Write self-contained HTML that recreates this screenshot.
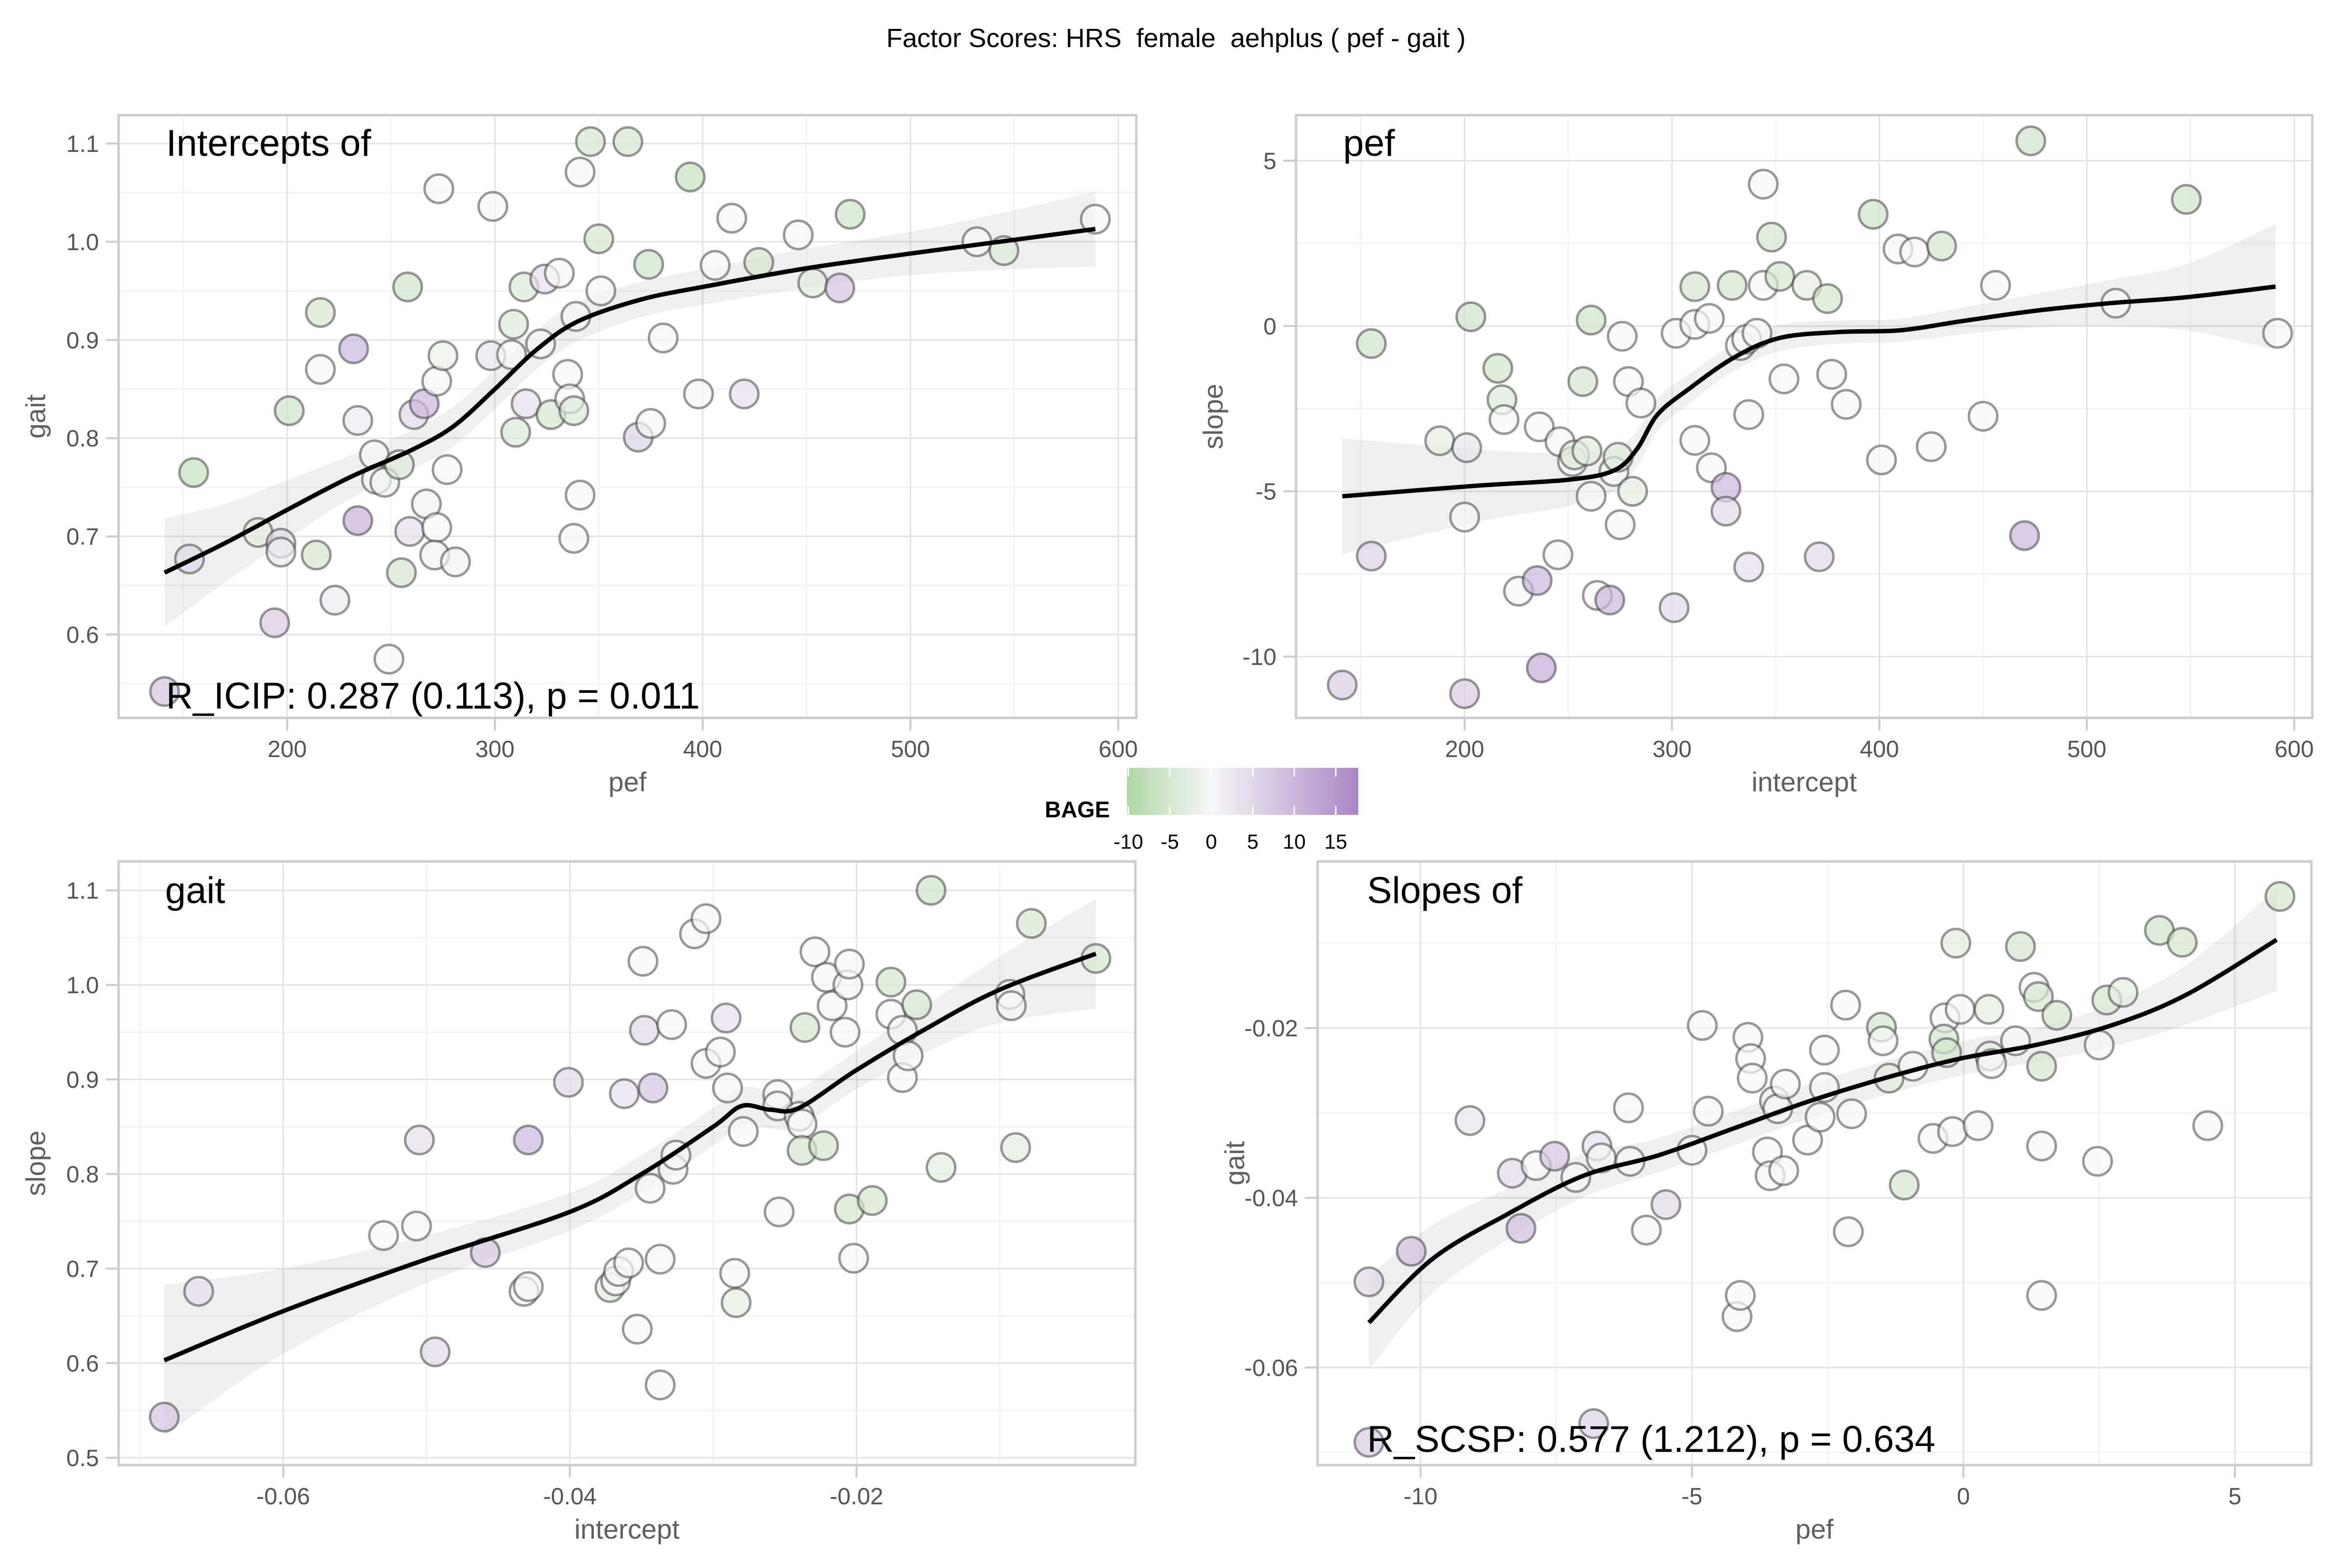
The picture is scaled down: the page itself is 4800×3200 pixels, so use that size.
<!DOCTYPE html>
<html><head><meta charset="utf-8">
<style>
html,body{margin:0;padding:0;background:#fff;}
svg{display:block;font-family:"Liberation Sans",Arial,sans-serif;}
</style></head>
<body>
<svg id="chart" width="4800" height="3200" viewBox="0 0 4800 3200" xmlns="http://www.w3.org/2000/svg">
<rect width="4800" height="3200" fill="#ffffff"/>
<text x="2400" y="96" text-anchor="middle" font-size="54" fill="#000" xml:space="preserve" style="white-space:pre">Factor Scores: HRS  female  aehplus ( pef - gait )</text>
<g id="panels"></g>
<g id="legend"></g>
</svg>
<script>
// ---------- Panel 1: pef intercept vs gait intercept ----------
const p1X=[141,155,153,186,197,197,194,201,216,216,214,223,232,234,242,243,247,234,249,254,255,258,259,261,266,267,272,272,273,275,271,277,281,299,298,310,308,309,314,315,324,322,327,331,335,336,338,338,341,339,341,346,350,351,364,374,369,375,381,394,398,406,414,420,427,446,453,466,471,532,545,589];
const p1Y=[0.542,0.765,0.677,0.704,0.693,0.684,0.612,0.828,0.928,0.870,0.681,0.635,0.891,0.818,0.783,0.758,0.755,0.716,0.575,0.773,0.663,0.954,0.705,0.824,0.835,0.733,0.709,0.858,1.054,0.884,0.681,0.768,0.674,1.036,0.884,0.806,0.885,0.916,0.954,0.835,0.962,0.896,0.824,0.968,0.865,0.840,0.828,0.698,0.742,0.924,1.071,1.102,1.003,0.950,1.102,0.977,0.801,0.815,0.902,1.066,0.845,0.976,1.024,0.845,0.979,1.007,0.958,0.953,1.028,1.000,0.991,1.023];
const p1Age=[8,-7,5,-3,4,2,7,-6,-5,0,-5,2,10,2,0,0,-1,11,0,-4,-5,-6,4,5,10,1,0,0,0,-2,1,0,1,0,3,-4,0,-4,-4,4,4,0,-5,0,0,0,-4,0,0,0,0,-5,-5,0,-5,-6,6,0,0,-7,0,0,0,4,-5,0,-3,8,-6,0,-4,0];
const p1FitX=[141,170,200,230,260,280,300,320,340,370,400,450,500,550,589];
const p1FitY=[0.663,0.693,0.727,0.760,0.788,0.812,0.850,0.890,0.919,0.941,0.954,0.973,0.988,1.002,1.013];
const p1FitSE=[0.055,0.04,0.03,0.022,0.02,0.02,0.02,0.02,0.02,0.018,0.018,0.02,0.022,0.03,0.038];
const p1XTicks=[200,300,400,500,600];
const p1YTicks=[0.6,0.7,0.8,0.9,1.0,1.1];

// ---------- Panel 2: pef intercept vs pef slope ----------
const p2X=[141,155,155,188,200,200,203,201,216,218,219,226,235,237,236,246,252,253,245,257,259,261,261,264,270,272,274,275,276,279,281,285,301,302,311,311,311,318,319,326,326,329,333,336,337,341,337,344,344,348,352,354,365,371,375,377,384,397,401,409,417,425,430,450,456,470,473,514,548,592];
const p2Y=[-10.86,-0.53,-6.96,-3.47,-11.12,-5.78,0.28,-3.68,-1.28,-2.23,-2.83,-8.02,-7.70,-10.34,-3.05,-3.50,-4.10,-3.90,-6.92,-1.68,-3.78,-5.15,0.18,-8.15,-8.29,-4.40,-3.97,-6.01,-0.31,-1.68,-5.00,-2.33,-8.52,-0.22,1.19,0.05,-3.46,0.23,-4.29,-4.88,-5.60,1.23,-0.59,-0.40,-2.68,-0.22,-7.29,4.29,1.23,2.69,1.50,-1.60,1.23,-6.98,0.83,-1.46,-2.37,3.38,-4.05,2.33,2.24,-3.65,2.42,-2.73,1.23,-6.34,5.60,0.69,3.83,-0.22];
const p2Age=[7,-6,6,-3,7,0,-6,3,-6,-4,0,0,10,12,0,0,0,-4,0,-5,-3,0,-6,0,10,0,-4,0,0,0,-3,0,5,0,-5,0,0,0,0,10,5,-5,0,0,0,0,4,0,0,-5,-5,0,-3,5,-5,0,0,-6,0,0,0,0,-5,0,0,10,-6,0,-6,0];
const p2FitX=[141,206,250,272,283,293,308,330,352,381,410,439,475,511,548,591];
const p2FitY=[-5.15,-4.83,-4.65,-4.37,-3.73,-2.68,-1.91,-0.95,-0.36,-0.18,-0.13,0.14,0.46,0.69,0.87,1.19];
const p2FitSE=[1.75,1.1,0.8,0.65,0.55,0.5,0.45,0.4,0.4,0.35,0.35,0.4,0.5,0.7,1.0,1.9];
const p2XTicks=[200,300,400,500,600];
const p2YTicks=[-10,-5,0,5];

// ---------- Panel 3: gait slope vs gait intercept ----------
const p3X=[-0.0683,-0.0659,-0.0530,-0.0507,-0.0505,-0.0494,-0.0459,-0.0429,-0.0432,-0.0429,-0.0401,-0.0372,-0.0368,-0.0366,-0.0362,-0.0359,-0.0353,-0.0349,-0.0348,-0.0344,-0.0342,-0.0337,-0.0337,-0.0329,-0.0328,-0.0326,-0.0313,-0.0305,-0.0305,-0.0295,-0.0291,-0.0290,-0.0285,-0.0284,-0.0279,-0.0255,-0.0255,-0.0254,-0.0240,-0.0238,-0.0236,-0.0238,-0.0229,-0.0223,-0.0221,-0.0217,-0.0208,-0.0206,-0.0205,-0.0205,-0.0202,-0.0189,-0.0176,-0.0176,-0.0168,-0.0168,-0.0164,-0.0158,-0.0148,-0.0141,-0.0093,-0.0092,-0.0089,-0.0078,-0.0033];
const p3Y=[0.543,0.676,0.735,0.745,0.836,0.612,0.717,0.836,0.676,0.681,0.897,0.680,0.687,0.697,0.885,0.706,0.636,1.025,0.952,0.785,0.891,0.710,0.577,0.958,0.805,0.820,1.054,1.070,0.917,0.929,0.965,0.891,0.695,0.664,0.845,0.884,0.872,0.760,0.861,0.853,0.955,0.825,1.035,0.830,1.008,0.978,0.950,1.000,1.022,0.763,0.711,0.772,1.003,0.969,0.952,0.902,0.925,0.979,1.100,0.807,0.990,0.978,0.828,1.065,1.028];
const p3Age=[8,4,0,0,4,5,7,10,0,0,5,-3,0,0,4,0,0,0,5,0,8,0,0,0,0,0,0,0,0,0,4,0,0,-3,0,0,0,0,0,0,-5,-5,0,-5,0,0,0,0,0,-5,0,-5,-5,0,0,0,0,-5,-6,-3,0,0,-3,-5,-5];
const p3FitX=[-0.0683,-0.06,-0.05,-0.04,-0.035,-0.03,-0.028,-0.026,-0.024,-0.02,-0.015,-0.01,-0.0033];
const p3FitY=[0.603,0.655,0.71,0.76,0.80,0.85,0.872,0.868,0.87,0.91,0.955,0.995,1.033];
const p3FitSE=[0.08,0.045,0.025,0.02,0.02,0.02,0.02,0.02,0.02,0.02,0.025,0.035,0.058];
const p3XTicks=[-0.06,-0.04,-0.02];
const p3YTicks=[0.5,0.6,0.7,0.8,0.9,1.0,1.1];

// ---------- Panel 4: pef slope vs gait slope ----------
const p4X=[-10.95,-10.95,-10.17,-9.09,-8.31,-8.15,-7.87,-7.53,-7.14,-6.81,-6.75,-6.67,-6.14,-6.17,-5.84,-5.48,-5.0,-4.81,-4.70,-4.17,-4.11,-3.97,-3.92,-3.89,-3.61,-3.56,-3.48,-3.42,-3.31,-3.28,-2.87,-2.64,-2.56,-2.56,-2.17,-2.12,-2.06,-1.51,-1.48,-1.37,-1.09,-0.93,-0.56,-0.34,-0.36,-0.31,-0.20,-0.14,-0.06,0.27,0.47,0.49,0.52,0.96,1.05,1.30,1.38,1.44,1.44,1.44,1.72,2.47,2.50,2.64,2.94,3.61,4.03,4.50,5.83];
const p4Y=[-0.0499,-0.0688,-0.0463,-0.0309,-0.0371,-0.0436,-0.0362,-0.0351,-0.0376,-0.0666,-0.0339,-0.0353,-0.0357,-0.0294,-0.0438,-0.0408,-0.0344,-0.0197,-0.0298,-0.0540,-0.0515,-0.0211,-0.0236,-0.0259,-0.0346,-0.0374,-0.0286,-0.0295,-0.0368,-0.0266,-0.0332,-0.0305,-0.0270,-0.0226,-0.0173,-0.0440,-0.0301,-0.0199,-0.0215,-0.0259,-0.0385,-0.0245,-0.0330,-0.0188,-0.0213,-0.0229,-0.0322,-0.0100,-0.0178,-0.0315,-0.0178,-0.0233,-0.0242,-0.0215,-0.0104,-0.0152,-0.0163,-0.0245,-0.0339,-0.0515,-0.0185,-0.0357,-0.0220,-0.0167,-0.0158,-0.0085,-0.0099,-0.0315,-0.0045];
const p4Age=[5,7,9,3,5,9,0,8,0,6,4,0,0,0,0,5,0,0,0,0,0,0,0,0,0,0,-2,0,0,0,0,0,0,0,0,0,0,-5,0,-3,-5,0,0,0,-5,-5,0,-3,0,0,-3,-3,0,0,-5,0,-5,-5,0,0,-5,0,0,-5,-3,-6,-5,0,-5];
const p4FitX=[-10.95,-9.78,-8.39,-7.0,-5.62,-4.22,-2.83,-1.45,-0.06,1.33,2.72,4.1,5.77];
const p4FitY=[-0.0547,-0.0472,-0.0419,-0.0374,-0.0350,-0.0318,-0.0286,-0.0259,-0.0236,-0.0220,-0.0197,-0.0161,-0.0096];
const p4FitSE=[0.0055,0.004,0.003,0.0025,0.002,0.002,0.002,0.002,0.002,0.002,0.0025,0.0035,0.006];
const p4XTicks=[-10,-5,0,5];
const p4YTicks=[-0.06,-0.04,-0.02];

// legend ticks
const legendTicks=[-10,-5,0,5,10,15];

const NS='http://www.w3.org/2000/svg';
function mk(tag,attrs,parent){const e=document.createElementNS(NS,tag);for(const k in attrs)e.setAttribute(k,attrs[k]);if(parent)parent.appendChild(e);return e;}
function lin(d0,r0,d1,r1){return v=>r0+(v-d0)*(r1-r0)/(d1-d0);}
function ageColor(a){
  const g=[175,215,165],m=[247,247,247],p=[170,135,198];
  let c;
  if(a<0){const t=Math.min(1,-a/10.2);c=m.map((v,i)=>Math.round(v+(g[i]-v)*t));}
  else{const t=Math.min(1,a/17.6);c=m.map((v,i)=>Math.round(v+(p[i]-v)*t));}
  return 'rgb('+c.join(',')+')';
}
// Catmull-Rom smoothed path through points (array of [x,y])
function smoothPath(pts,move){
  let d=(move?'M':'L')+pts[0][0].toFixed(1)+','+pts[0][1].toFixed(1);
  for(let i=0;i<pts.length-1;i++){
    const p0=pts[Math.max(0,i-1)],p1=pts[i],p2=pts[i+1],p3=pts[Math.min(pts.length-1,i+2)];
    const c1=[p1[0]+(p2[0]-p0[0])/6,p1[1]+(p2[1]-p0[1])/6];
    const c2=[p2[0]-(p3[0]-p1[0])/6,p2[1]-(p3[1]-p1[1])/6];
    d+=' C'+c1[0].toFixed(1)+','+c1[1].toFixed(1)+' '+c2[0].toFixed(1)+','+c2[1].toFixed(1)+' '+p2[0].toFixed(1)+','+p2[1].toFixed(1);
  }
  return d;
}

const panelsG=document.getElementById('panels');
const panels=[
 {id:'intercepts-panel',x0:242,x1:2319,y0:235,y1:1465,xs:lin(200,586,600,2282),ys:lin(1.1,293,0.6,1295),
  X:p1X,Y:p1Y,A:p1Age,FX:p1FitX,FY:p1FitY,FS:p1FitSE,xt:p1XTicks,yt:p1YTicks,xminor:[150,250,350,450,550],yminor:[0.55,0.65,0.75,0.85,0.95,1.05],
  xlab:'pef',ylab:'gait',xfmt:v=>String(v),yfmt:v=>v.toFixed(1),title:'Intercepts of',note:'R_ICIP: 0.287 (0.113), p = 0.011',titleY:318,noteY:1446,labTx:339},
 {id:'pef-panel',x0:2645,x1:4719,y0:235,y1:1465,xs:lin(200,2989,600,4682),ys:lin(5,328,-10,1340),
  X:p2X,Y:p2Y,A:p2Age,FX:p2FitX,FY:p2FitY,FS:p2FitSE,xt:p2XTicks,yt:p2YTicks,xminor:[150,250,350,450,550],yminor:[-7.5,-2.5,2.5],
  xlab:'intercept',ylab:'slope',xfmt:v=>String(v),yfmt:v=>String(v),title:'pef',note:null,titleY:318,labTx:2741},
 {id:'gait-panel',x0:242,x1:2317,y0:1758,y1:2990,xs:lin(-0.06,578,-0.02,1748),ys:lin(1.1,1817,0.5,2975),
  X:p3X,Y:p3Y,A:p3Age,FX:p3FitX,FY:p3FitY,FS:p3FitSE,xt:p3XTicks,yt:p3YTicks,xminor:[-0.07,-0.05,-0.03,-0.01],yminor:[0.55,0.65,0.75,0.85,0.95,1.05],
  xlab:'intercept',ylab:'slope',xfmt:v=>v.toFixed(2),yfmt:v=>v.toFixed(1),title:'gait',note:null,titleY:1843,labTx:337},
 {id:'slopes-panel',x0:2689,x1:4717,y0:1758,y1:2990,xs:lin(-10,2899,5,4561),ys:lin(-0.02,2098,-0.06,2791),
  X:p4X,Y:p4Y,A:p4Age,FX:p4FitX,FY:p4FitY,FS:p4FitSE,xt:p4XTicks,yt:p4YTicks,xminor:[-7.5,-2.5,2.5],yminor:[-0.07,-0.05,-0.03,-0.01],
  xlab:'pef',ylab:'gait',xfmt:v=>String(v),yfmt:v=>v.toFixed(2),title:'Slopes of',note:'R_SCSP: 0.577 (1.212), p = 0.634',titleY:1843,noteY:2963,labTx:2790}
];

panels.forEach((P,pi)=>{
  const g=mk('g',{},panelsG);
  
  
  const clipId='clip'+pi;
  const cp=mk('clipPath',{id:clipId},g);mk('rect',{x:P.x0,y:P.y0,width:P.x1-P.x0,height:P.y1-P.y0},cp);
  P.xminor.forEach(v=>{const x=P.xs(v);if(x>P.x0&&x<P.x1){const l=mk('line',{x1:x,x2:x,y1:P.y0,y2:P.y1,stroke:'#f3f3f3','stroke-width':3},g);
    
    }});
  P.yminor.forEach(v=>{const y=P.ys(v);if(y>P.y0&&y<P.y1){const l=mk('line',{x1:P.x0,x2:P.x1,y1:y,y2:y,stroke:'#f3f3f3','stroke-width':3},g);
    
    }});
  P.xt.forEach(v=>{const x=P.xs(v);
    const l=mk('line',{x1:x,x2:x,y1:P.y0,y2:P.y1,stroke:'#e3e3e3','stroke-width':3},g);
    
    
    const t=mk('line',{x1:x,x2:x,y1:P.y1,y2:P.y1+26,stroke:'#cccccc','stroke-width':4},g);
    
    
    const tx=mk('text',{x:x,y:P.y1+80,'text-anchor':'middle','font-size':48,fill:'#555555'},g);tx.textContent=P.xfmt(v);
    
    });
  P.yt.forEach(v=>{const y=P.ys(v);
    const l=mk('line',{x1:P.x0,x2:P.x1,y1:y,y2:y,stroke:'#e3e3e3','stroke-width':3},g);
    
    
    const t=mk('line',{x1:P.x0-26,x2:P.x0,y1:y,y2:y,stroke:'#cccccc','stroke-width':4},g);
    
    
    const tx=mk('text',{x:P.x0-40,y:y+17,'text-anchor':'end','font-size':48,fill:'#555555'},g);tx.textContent=P.yfmt(v);
    
    });
  const inner=mk('g',{'clip-path':'url(#'+clipId+')'},g);
  const upPts=P.FX.map((xv,i)=>[P.xs(xv),P.ys(P.FY[i]+P.FS[i])]);
  const loPts=P.FX.map((xv,i)=>[P.xs(xv),P.ys(P.FY[i]-P.FS[i])]).reverse();
  const band=mk('path',{d:smoothPath(upPts,true)+' '+smoothPath(loPts,false)+' Z',fill:'#999999','fill-opacity':0.16},inner);
  
  
  P.X.forEach((xv,i)=>{
    const c=mk('circle',{cx:P.xs(xv),cy:P.ys(P.Y[i]),r:29,fill:ageColor(P.A[i]),'fill-opacity':0.7,stroke:'#333333','stroke-opacity':0.5,'stroke-width':5},inner);
    
    
  });
  const fitPts=P.FX.map((xv,i)=>[P.xs(xv),P.ys(P.FY[i])]);
  const fl=mk('path',{d:smoothPath(fitPts,true),fill:'none',stroke:'#000','stroke-width':9,'stroke-linejoin':'round'},inner);
  
  
  const b=mk('rect',{x:P.x0,y:P.y0,width:P.x1-P.x0,height:P.y1-P.y0,fill:'none',stroke:'#cccccc','stroke-width':5},g);
  
  
  const xt=mk('text',{x:(P.x0+P.x1)/2,y:P.y1+150,'text-anchor':'middle','font-size':56,fill:'#5f5f5f'},g);xt.textContent=P.xlab;
  
  
  const yx=P.x0-150,yy=(P.y0+P.y1)/2;
  const yt=mk('text',{x:yx,y:yy,'text-anchor':'middle','font-size':56,fill:'#5f5f5f',transform:'rotate(-90 '+yx+' '+yy+')'},g);yt.textContent=P.ylab;
  
  
  const tt=mk('text',{x:P.labTx,y:P.titleY,'font-size':76,fill:'#000'},g);tt.textContent=P.title;
  
  
  if(P.note){const nt=mk('text',{x:P.labTx,y:P.noteY,'font-size':76,fill:'#000'},g);nt.textContent=P.note;
    
    }
});

// ---------- legend ----------
const L=document.getElementById('legend');
const lx=lin(0,2472,15,2726);
const lx0=2300,lx1=2772,ly0=1567,ly1=1663;
const defs=mk('defs',{},L);
const grad=mk('linearGradient',{id:'bageGrad',x1:lx0,x2:lx1,y1:0,y2:0,gradientUnits:'userSpaceOnUse'},defs);
[-10.2,-5,0,5,10,17.6].forEach(v=>{mk('stop',{offset:((lx(v)-lx0)/(lx1-lx0)).toFixed(4),'stop-color':ageColor(v)},grad);});
const bar=mk('rect',{x:lx0,y:ly0,width:lx1-lx0,height:ly1-ly0,fill:'url(#bageGrad)'},L);


const bt=mk('text',{x:2265,y:1668,'text-anchor':'end','font-size':46,'font-weight':'bold',fill:'#000'},L);bt.textContent='BAGE';


legendTicks.forEach(v=>{const x=lx(v);
  mk('line',{x1:x,x2:x,y1:ly0,y2:ly0+18,stroke:'#fff','stroke-width':3},L);
  mk('line',{x1:x,x2:x,y1:ly1-18,y2:ly1,stroke:'#fff','stroke-width':3},L);
  const t=mk('text',{x:x,y:1732,'text-anchor':'middle','font-size':42,fill:'#000'},L);t.textContent=String(v);
  
  });
</script>
</body></html>
